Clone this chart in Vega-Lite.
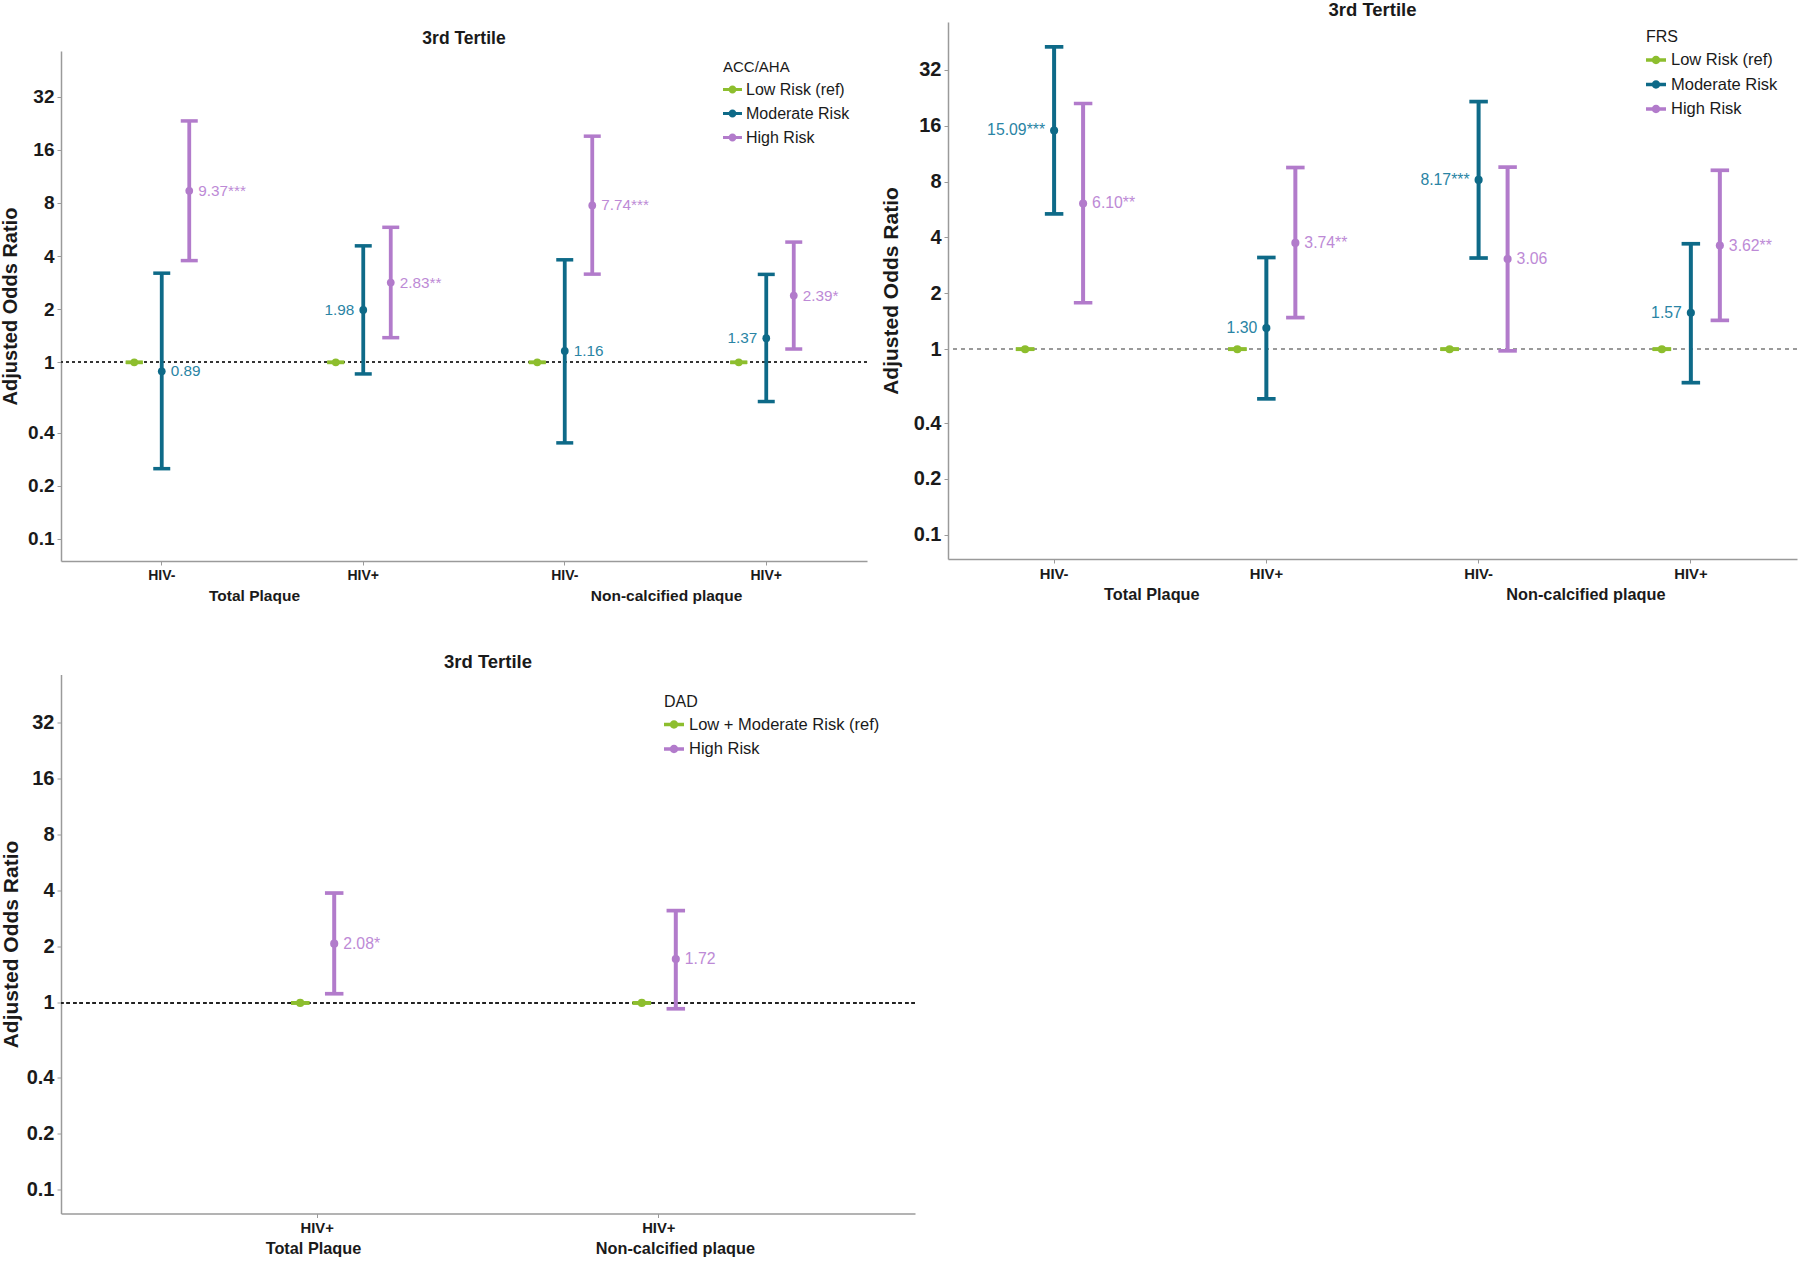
{
  "$schema": "https://vega.github.io/schema/vega-lite/v6.json",
  "background": "white",
  "padding": 0,
  "config": {
    "view": {"stroke": null},
    "font": "Liberation Sans",
    "axis": {"grid": false, "domainColor": "#9a9a9a", "domainWidth": 1.5, "tickColor": "#9a9a9a", "tickWidth": 1, "labelColor": "#1a1a1a", "titleColor": "#1a1a1a"},
    "legend": {"padding": 0, "labelColor": "#1a1a1a", "titleColor": "#1a1a1a", "titleFontWeight": "normal", "symbolStrokeWidth": 0, "labelLimit": 400}
  },
  "datasets": {
    "acc": [
      {"plaque": "Total Plaque", "hiv": "HIV-", "cat": "Total Plaque|HIV-", "risk": "Low Risk (ref)", "or": 1, "lo": 1, "hi": 1, "lab": null},
      {"plaque": "Total Plaque", "hiv": "HIV-", "cat": "Total Plaque|HIV-", "risk": "Moderate Risk", "or": 0.89, "lo": 0.25, "hi": 3.2, "lab": "0.89"},
      {"plaque": "Total Plaque", "hiv": "HIV-", "cat": "Total Plaque|HIV-", "risk": "High Risk", "or": 9.37, "lo": 3.77, "hi": 23.3, "lab": "9.37***"},
      {"plaque": "Total Plaque", "hiv": "HIV+", "cat": "Total Plaque|HIV+", "risk": "Low Risk (ref)", "or": 1, "lo": 1, "hi": 1, "lab": null},
      {"plaque": "Total Plaque", "hiv": "HIV+", "cat": "Total Plaque|HIV+", "risk": "Moderate Risk", "or": 1.98, "lo": 0.86, "hi": 4.57, "lab": "1.98"},
      {"plaque": "Total Plaque", "hiv": "HIV+", "cat": "Total Plaque|HIV+", "risk": "High Risk", "or": 2.83, "lo": 1.38, "hi": 5.82, "lab": "2.83**"},
      {"plaque": "Non-calcified plaque", "hiv": "HIV-", "cat": "Non-calcified plaque|HIV-", "risk": "Low Risk (ref)", "or": 1, "lo": 1, "hi": 1, "lab": null},
      {"plaque": "Non-calcified plaque", "hiv": "HIV-", "cat": "Non-calcified plaque|HIV-", "risk": "Moderate Risk", "or": 1.16, "lo": 0.35, "hi": 3.81, "lab": "1.16"},
      {"plaque": "Non-calcified plaque", "hiv": "HIV-", "cat": "Non-calcified plaque|HIV-", "risk": "High Risk", "or": 7.74, "lo": 3.16, "hi": 19.1, "lab": "7.74***"},
      {"plaque": "Non-calcified plaque", "hiv": "HIV+", "cat": "Non-calcified plaque|HIV+", "risk": "Low Risk (ref)", "or": 1, "lo": 1, "hi": 1, "lab": null},
      {"plaque": "Non-calcified plaque", "hiv": "HIV+", "cat": "Non-calcified plaque|HIV+", "risk": "Moderate Risk", "or": 1.37, "lo": 0.6, "hi": 3.15, "lab": "1.37"},
      {"plaque": "Non-calcified plaque", "hiv": "HIV+", "cat": "Non-calcified plaque|HIV+", "risk": "High Risk", "or": 2.39, "lo": 1.19, "hi": 4.8, "lab": "2.39*"}
    ],
    "frs": [
      {"plaque": "Total Plaque", "hiv": "HIV-", "cat": "Total Plaque|HIV-", "risk": "Low Risk (ref)", "or": 1, "lo": 1, "hi": 1, "lab": null},
      {"plaque": "Total Plaque", "hiv": "HIV-", "cat": "Total Plaque|HIV-", "risk": "Moderate Risk", "or": 15.09, "lo": 5.36, "hi": 42.6, "lab": "15.09***"},
      {"plaque": "Total Plaque", "hiv": "HIV-", "cat": "Total Plaque|HIV-", "risk": "High Risk", "or": 6.1, "lo": 1.78, "hi": 21.1, "lab": "6.10**"},
      {"plaque": "Total Plaque", "hiv": "HIV+", "cat": "Total Plaque|HIV+", "risk": "Low Risk (ref)", "or": 1, "lo": 1, "hi": 1, "lab": null},
      {"plaque": "Total Plaque", "hiv": "HIV+", "cat": "Total Plaque|HIV+", "risk": "Moderate Risk", "or": 1.3, "lo": 0.54, "hi": 3.12, "lab": "1.30"},
      {"plaque": "Total Plaque", "hiv": "HIV+", "cat": "Total Plaque|HIV+", "risk": "High Risk", "or": 3.74, "lo": 1.48, "hi": 9.53, "lab": "3.74**"},
      {"plaque": "Non-calcified plaque", "hiv": "HIV-", "cat": "Non-calcified plaque|HIV-", "risk": "Low Risk (ref)", "or": 1, "lo": 1, "hi": 1, "lab": null},
      {"plaque": "Non-calcified plaque", "hiv": "HIV-", "cat": "Non-calcified plaque|HIV-", "risk": "Moderate Risk", "or": 8.17, "lo": 3.1, "hi": 21.6, "lab": "8.17***"},
      {"plaque": "Non-calcified plaque", "hiv": "HIV-", "cat": "Non-calcified plaque|HIV-", "risk": "High Risk", "or": 3.06, "lo": 0.98, "hi": 9.58, "lab": "3.06"},
      {"plaque": "Non-calcified plaque", "hiv": "HIV+", "cat": "Non-calcified plaque|HIV+", "risk": "Low Risk (ref)", "or": 1, "lo": 1, "hi": 1, "lab": null},
      {"plaque": "Non-calcified plaque", "hiv": "HIV+", "cat": "Non-calcified plaque|HIV+", "risk": "Moderate Risk", "or": 1.57, "lo": 0.66, "hi": 3.7, "lab": "1.57"},
      {"plaque": "Non-calcified plaque", "hiv": "HIV+", "cat": "Non-calcified plaque|HIV+", "risk": "High Risk", "or": 3.62, "lo": 1.43, "hi": 9.21, "lab": "3.62**"}
    ],
    "dad": [
      {"plaque": "Total Plaque", "hiv": "HIV+", "cat": "Total Plaque|HIV+", "risk": "Low + Moderate Risk (ref)", "or": 1, "lo": 1, "hi": 1, "lab": null},
      {"plaque": "Total Plaque", "hiv": "HIV+", "cat": "Total Plaque|HIV+", "risk": "High Risk", "or": 2.08, "lo": 1.12, "hi": 3.89, "lab": "2.08*"},
      {"plaque": "Non-calcified plaque", "hiv": "HIV+", "cat": "Non-calcified plaque|HIV+", "risk": "Low + Moderate Risk (ref)", "or": 1, "lo": 1, "hi": 1, "lab": null},
      {"plaque": "Non-calcified plaque", "hiv": "HIV+", "cat": "Non-calcified plaque|HIV+", "risk": "High Risk", "or": 1.72, "lo": 0.93, "hi": 3.13, "lab": "1.72"}
    ]
  },
  "vconcat": [
    {
      "hconcat": [
        {
          "vconcat": [
            {"width": 1, "height": 1, "data": {"values": []}, "mark": "point", "encoding": {}},
            {
              "width": 806, "height": 510,
              "title": {"text": "3rd Tertile", "fontSize": 17.5, "fontWeight": "bold", "color": "#1a1a1a", "anchor": "middle", "offset": 3.5},
              "data": {"name": "acc"},
              "layer": [
                {
                  "layer": [
                    {"mark": {"type": "rule", "strokeDash": [3, 3], "strokeWidth": 1.4, "color": "#333333"},
                     "encoding": {"y": {"datum": 1, "type": "quantitative", "scale": {"type": "log", "domain": [0.075, 58], "nice": false}}}},
                    {"mark": {"type": "point", "filled": true, "size": 60, "opacity": 1},
                     "encoding": {
                       "x": {"field": "cat", "type": "nominal", "scale": {"type": "band", "paddingInner": 0, "paddingOuter": 0, "domain": ["Total Plaque|HIV-", "Total Plaque|HIV+", "Non-calcified plaque|HIV-", "Non-calcified plaque|HIV+"]},
                             "axis": {"title": null, "labelExpr": "split(datum.label, '|')[1]", "labelAngle": 0, "labelFontSize": 14, "labelFontWeight": "bold", "labelPadding": 3, "tickSize": 4, "bandPosition": 0.5}},
                       "xOffset": {"field": "risk", "type": "nominal", "scale": {"type": "point", "domain": ["Low Risk (ref)", "Moderate Risk", "High Risk"], "range": [73.25, 128.25], "padding": 0}},
                       "y": {"field": "or", "type": "quantitative", "scale": {"type": "log", "domain": [0.075, 58], "nice": false},
                             "axis": {"title": "Adjusted Odds Ratio", "values": [0.1, 0.2, 0.4, 1, 2, 4, 8, 16, 32], "format": "~g", "labelFontSize": 19, "labelFontWeight": "bold", "titleFontSize": 20, "titleFontWeight": "bold", "titlePadding": 7, "tickSize": 4, "labelPadding": 3}},
                       "color": {"field": "risk", "type": "nominal", "scale": {"domain": ["Low Risk (ref)", "Moderate Risk", "High Risk"], "range": ["#8DBE2E", "#0E6A88", "#B27BCB"]},
                                 "legend": {"title": "ACC/AHA", "orient": "none", "legendX": 662, "legendY": 38, "titleFontSize": 15, "labelFontSize": 16, "symbolType": "M-1,-0.17L1,-0.17L1,0.17L-1,0.17Z M-0.42,0A0.42,0.42,0,1,1,0.42,0A0.42,0.42,0,1,1,-0.42,0Z", "symbolSize": 360, "rowPadding": 6, "titlePadding": 5, "labelOffset": 4}}
                     }},
                    {"mark": {"type": "rule", "strokeWidth": 3.8},
                     "encoding": {
                       "x": {"field": "cat", "type": "nominal"},
                       "xOffset": {"field": "risk", "type": "nominal", "scale": {"domain": ["Low Risk (ref)", "Moderate Risk", "High Risk"]}},
                       "y": {"field": "lo", "type": "quantitative"},
                       "y2": {"field": "hi"},
                       "color": {"field": "risk", "type": "nominal"}
                     }},
                    {"mark": {"type": "tick", "orient": "horizontal", "size": 17, "thickness": 3.5, "opacity": 1},
                     "encoding": {
                       "x": {"field": "cat", "type": "nominal"},
                       "xOffset": {"field": "risk", "type": "nominal", "scale": {"domain": ["Low Risk (ref)", "Moderate Risk", "High Risk"]}},
                       "y": {"field": "lo", "type": "quantitative"},
                       "color": {"field": "risk", "type": "nominal"}
                     }},
                    {"mark": {"type": "tick", "orient": "horizontal", "size": 17, "thickness": 3.5, "opacity": 1},
                     "encoding": {
                       "x": {"field": "cat", "type": "nominal"},
                       "xOffset": {"field": "risk", "type": "nominal", "scale": {"domain": ["Low Risk (ref)", "Moderate Risk", "High Risk"]}},
                       "y": {"field": "hi", "type": "quantitative"},
                       "color": {"field": "risk", "type": "nominal"}
                     }},
                    {"transform": [{"filter": "datum.lab != null && !(datum.risk == 'Moderate Risk' && datum.hiv == 'HIV+')"}],
                     "mark": {"type": "text", "align": "left", "baseline": "middle", "dx": 9, "fontSize": 15.3},
                     "encoding": {
                       "x": {"field": "cat", "type": "nominal"},
                       "xOffset": {"field": "risk", "type": "nominal", "scale": {"domain": ["Low Risk (ref)", "Moderate Risk", "High Risk"]}},
                       "y": {"field": "or", "type": "quantitative"},
                       "text": {"field": "lab"},
                       "fill": {"field": "risk", "type": "nominal", "scale": {"domain": ["Moderate Risk", "High Risk"], "range": ["#2A84A4", "#BD8AD6"]}, "legend": null}
                     }},
                    {"transform": [{"filter": "datum.lab != null && datum.risk == 'Moderate Risk' && datum.hiv == 'HIV+'"}],
                     "mark": {"type": "text", "align": "right", "baseline": "middle", "dx": -9, "fontSize": 15.3},
                     "encoding": {
                       "x": {"field": "cat", "type": "nominal"},
                       "xOffset": {"field": "risk", "type": "nominal", "scale": {"domain": ["Low Risk (ref)", "Moderate Risk", "High Risk"]}},
                       "y": {"field": "or", "type": "quantitative"},
                       "text": {"field": "lab"},
                       "fill": {"field": "risk", "type": "nominal", "legend": null}
                     }}
                  ]
                },
                {
                  "mark": {"type": "point", "opacity": 0},
                  "encoding": {
                    "x": {"field": "plaque", "type": "nominal", "scale": {"type": "point", "domain": ["Total Plaque", "Non-calcified plaque"], "padding": 0.478, "align": 0.49},
                          "axis": {"orient": "bottom", "title": null, "offset": 27, "domain": false, "ticks": false, "tickSize": 0, "labelPadding": 0, "labelAngle": 0, "labelFontSize": 15.5, "labelFontWeight": "bold"}}
                  }
                }
              ],
              "resolve": {"scale": {"x": "independent"}, "axis": {"x": "independent"}}
            }
          ],
          "spacing": 7
        },
        {
          "width": 849, "height": 537,
          "title": {"text": "3rd Tertile", "fontSize": 18.5, "fontWeight": "bold", "color": "#1a1a1a", "anchor": "middle", "offset": 3},
          "data": {"name": "frs"},
          "layer": [
            {
              "layer": [
                {"mark": {"type": "rule", "strokeDash": [4, 4], "strokeWidth": 1.4, "color": "#9a9a9a"},
                 "encoding": {"y": {"datum": 1, "type": "quantitative", "scale": {"type": "log", "domain": [0.074, 58], "nice": false}}}},
                {"mark": {"type": "point", "filled": true, "size": 66, "opacity": 1},
                 "encoding": {
                   "x": {"field": "cat", "type": "nominal", "scale": {"type": "band", "paddingInner": 0, "paddingOuter": 0, "domain": ["Total Plaque|HIV-", "Total Plaque|HIV+", "Non-calcified plaque|HIV-", "Non-calcified plaque|HIV+"]},
                         "axis": {"title": null, "labelExpr": "split(datum.label, '|')[1]", "labelAngle": 0, "labelFontSize": 14.8, "labelFontWeight": "bold", "labelPadding": 3, "tickSize": 4, "bandPosition": 0.5}},
                   "xOffset": {"field": "risk", "type": "nominal", "scale": {"type": "point", "domain": ["Low Risk (ref)", "Moderate Risk", "High Risk"], "range": [77.1, 135.1], "padding": 0}},
                   "y": {"field": "or", "type": "quantitative", "scale": {"type": "log", "domain": [0.074, 58], "nice": false},
                         "axis": {"title": "Adjusted Odds Ratio", "values": [0.1, 0.2, 0.4, 1, 2, 4, 8, 16, 32], "format": "~g", "labelFontSize": 20, "labelFontWeight": "bold", "titleFontSize": 21, "titleFontWeight": "bold", "titlePadding": 12, "tickSize": 4, "labelPadding": 3}},
                   "color": {"field": "risk", "type": "nominal", "scale": {"domain": ["Low Risk (ref)", "Moderate Risk", "High Risk"], "range": ["#8DBE2E", "#0E6A88", "#B27BCB"]},
                             "legend": {"title": "FRS", "orient": "none", "legendX": 698, "legendY": 7, "titleFontSize": 16, "labelFontSize": 16.5, "symbolType": "M-1,-0.17L1,-0.17L1,0.17L-1,0.17Z M-0.42,0A0.42,0.42,0,1,1,0.42,0A0.42,0.42,0,1,1,-0.42,0Z", "symbolSize": 400, "rowPadding": 5.5, "titlePadding": 5, "labelOffset": 5}}
                 }},
                {"mark": {"type": "rule", "strokeWidth": 4},
                 "encoding": {
                   "x": {"field": "cat", "type": "nominal"},
                   "xOffset": {"field": "risk", "type": "nominal", "scale": {"domain": ["Low Risk (ref)", "Moderate Risk", "High Risk"]}},
                   "y": {"field": "lo", "type": "quantitative"},
                   "y2": {"field": "hi"},
                   "color": {"field": "risk", "type": "nominal"}
                 }},
                {"mark": {"type": "tick", "orient": "horizontal", "size": 18.5, "thickness": 3.7, "opacity": 1},
                 "encoding": {
                   "x": {"field": "cat", "type": "nominal"},
                   "xOffset": {"field": "risk", "type": "nominal", "scale": {"domain": ["Low Risk (ref)", "Moderate Risk", "High Risk"]}},
                   "y": {"field": "lo", "type": "quantitative"},
                   "color": {"field": "risk", "type": "nominal"}
                 }},
                {"mark": {"type": "tick", "orient": "horizontal", "size": 18.5, "thickness": 3.7, "opacity": 1},
                 "encoding": {
                   "x": {"field": "cat", "type": "nominal"},
                   "xOffset": {"field": "risk", "type": "nominal", "scale": {"domain": ["Low Risk (ref)", "Moderate Risk", "High Risk"]}},
                   "y": {"field": "hi", "type": "quantitative"},
                   "color": {"field": "risk", "type": "nominal"}
                 }},
                {"transform": [{"filter": "datum.lab != null && datum.risk == 'High Risk'"}],
                 "mark": {"type": "text", "align": "left", "baseline": "middle", "dx": 9, "fontSize": 15.8},
                 "encoding": {
                   "x": {"field": "cat", "type": "nominal"},
                   "xOffset": {"field": "risk", "type": "nominal", "scale": {"domain": ["Low Risk (ref)", "Moderate Risk", "High Risk"]}},
                   "y": {"field": "or", "type": "quantitative"},
                   "text": {"field": "lab"},
                   "fill": {"field": "risk", "type": "nominal", "scale": {"domain": ["Moderate Risk", "High Risk"], "range": ["#2A84A4", "#BD8AD6"]}, "legend": null}
                 }},
                {"transform": [{"filter": "datum.lab != null && datum.risk == 'Moderate Risk'"}],
                 "mark": {"type": "text", "align": "right", "baseline": "middle", "dx": -9, "fontSize": 15.8},
                 "encoding": {
                   "x": {"field": "cat", "type": "nominal"},
                   "xOffset": {"field": "risk", "type": "nominal", "scale": {"domain": ["Low Risk (ref)", "Moderate Risk", "High Risk"]}},
                   "y": {"field": "or", "type": "quantitative"},
                   "text": {"field": "lab"},
                   "fill": {"field": "risk", "type": "nominal", "legend": null}
                 }}
              ]
            },
            {
              "mark": {"type": "point", "opacity": 0},
              "encoding": {
                "x": {"field": "plaque", "type": "nominal", "scale": {"type": "point", "domain": ["Total Plaque", "Non-calcified plaque"], "padding": 0.478, "align": 0.49},
                      "axis": {"orient": "bottom", "title": null, "offset": 27, "domain": false, "ticks": false, "tickSize": 0, "labelPadding": 0, "labelAngle": 0, "labelFontSize": 16.3, "labelFontWeight": "bold"}}
              }
            }
          ],
          "resolve": {"scale": {"x": "independent"}, "axis": {"x": "independent"}}
        }
      ],
      "spacing": 12,
      "resolve": {"scale": {"color": "independent", "xOffset": "independent", "fill": "independent", "y": "independent"}, "legend": {"color": "independent"}}
    },
    {
      "width": 854, "height": 539,
      "title": {"text": "3rd Tertile", "fontSize": 18.5, "fontWeight": "bold", "color": "#1a1a1a", "anchor": "middle", "offset": 3.5},
      "data": {"name": "dad"},
      "layer": [
        {
          "layer": [
            {"mark": {"type": "rule", "strokeDash": [3.5, 3], "strokeWidth": 1.5, "color": "#222222"},
             "encoding": {"y": {"datum": 1, "type": "quantitative", "scale": {"type": "log", "domain": [0.074, 58], "nice": false}}}},
            {"mark": {"type": "point", "filled": true, "size": 66, "opacity": 1},
             "encoding": {
               "x": {"field": "cat", "type": "nominal", "scale": {"type": "band", "paddingInner": 0, "paddingOuter": 0.25, "domain": ["Total Plaque|HIV+", "Non-calcified plaque|HIV+"]},
                     "axis": {"title": null, "labelExpr": "split(datum.label, '|')[1]", "labelAngle": 0, "labelFontSize": 14.8, "labelFontWeight": "bold", "labelPadding": 3, "tickSize": 4, "bandPosition": 0.5}},
               "xOffset": {"field": "risk", "type": "nominal", "scale": {"type": "point", "domain": ["Low + Moderate Risk (ref)", "High Risk"], "range": [153.8, 187.8], "padding": 0}},
               "y": {"field": "or", "type": "quantitative", "scale": {"type": "log", "domain": [0.074, 58], "nice": false},
                     "axis": {"title": "Adjusted Odds Ratio", "values": [0.1, 0.2, 0.4, 1, 2, 4, 8, 16, 32], "format": "~g", "labelFontSize": 20, "labelFontWeight": "bold", "titleFontSize": 21, "titleFontWeight": "bold", "titlePadding": 5, "tickSize": 4, "labelPadding": 3}},
               "color": {"field": "risk", "type": "nominal", "scale": {"domain": ["Low + Moderate Risk (ref)", "High Risk"], "range": ["#8DBE2E", "#B27BCB"]},
                         "legend": {"title": "DAD", "orient": "none", "legendX": 603, "legendY": 19, "titleFontSize": 16, "labelFontSize": 16.5, "symbolType": "M-1,-0.17L1,-0.17L1,0.17L-1,0.17Z M-0.42,0A0.42,0.42,0,1,1,0.42,0A0.42,0.42,0,1,1,-0.42,0Z", "symbolSize": 400, "rowPadding": 5.5, "titlePadding": 5, "labelOffset": 5}}
             }},
            {"mark": {"type": "rule", "strokeWidth": 4},
             "encoding": {
               "x": {"field": "cat", "type": "nominal"},
               "xOffset": {"field": "risk", "type": "nominal", "scale": {"domain": ["Low + Moderate Risk (ref)", "High Risk"]}},
               "y": {"field": "lo", "type": "quantitative"},
               "y2": {"field": "hi"},
               "color": {"field": "risk", "type": "nominal"}
             }},
            {"mark": {"type": "tick", "orient": "horizontal", "size": 18.5, "thickness": 3.7, "opacity": 1},
             "encoding": {
               "x": {"field": "cat", "type": "nominal"},
               "xOffset": {"field": "risk", "type": "nominal", "scale": {"domain": ["Low + Moderate Risk (ref)", "High Risk"]}},
               "y": {"field": "lo", "type": "quantitative"},
               "color": {"field": "risk", "type": "nominal"}
             }},
            {"mark": {"type": "tick", "orient": "horizontal", "size": 18.5, "thickness": 3.7, "opacity": 1},
             "encoding": {
               "x": {"field": "cat", "type": "nominal"},
               "xOffset": {"field": "risk", "type": "nominal", "scale": {"domain": ["Low + Moderate Risk (ref)", "High Risk"]}},
               "y": {"field": "hi", "type": "quantitative"},
               "color": {"field": "risk", "type": "nominal"}
             }},
            {"transform": [{"filter": "datum.lab != null"}],
             "mark": {"type": "text", "align": "left", "baseline": "middle", "dx": 9, "fontSize": 15.8},
             "encoding": {
               "x": {"field": "cat", "type": "nominal"},
               "xOffset": {"field": "risk", "type": "nominal", "scale": {"domain": ["Low + Moderate Risk (ref)", "High Risk"]}},
               "y": {"field": "or", "type": "quantitative"},
               "text": {"field": "lab"},
               "fill": {"field": "risk", "type": "nominal", "scale": {"domain": ["High Risk"], "range": ["#BD8AD6"]}, "legend": null}
             }}
          ]
        },
        {
          "mark": {"type": "point", "opacity": 0},
          "encoding": {
            "x": {"field": "plaque", "type": "nominal", "scale": {"type": "point", "domain": ["Total Plaque", "Non-calcified plaque"], "padding": 0.68, "align": 0.512},
                  "axis": {"orient": "bottom", "title": null, "offset": 27, "domain": false, "ticks": false, "tickSize": 0, "labelPadding": 0, "labelAngle": 0, "labelFontSize": 16.3, "labelFontWeight": "bold"}}
          }
        }
      ],
      "resolve": {"scale": {"x": "independent"}, "axis": {"x": "independent"}}
    }
  ],
  "spacing": 48.5,
  "resolve": {"scale": {"color": "independent", "xOffset": "independent", "fill": "independent", "y": "independent"}, "legend": {"color": "independent"}}
}
